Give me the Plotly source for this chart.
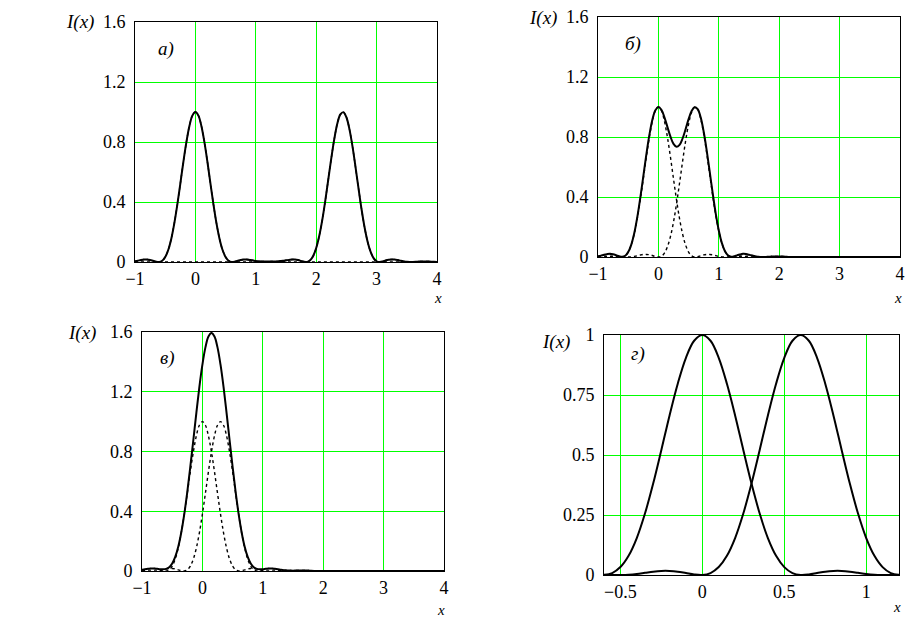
import plotly.graph_objects as go

W, H = 920, 630

# x sample positions for panels а, б, в
X_ABV = [-1.0, -0.95, -0.9, -0.85, -0.8, -0.75, -0.7, -0.65, -0.6, -0.55,
         -0.5, -0.45, -0.4, -0.35, -0.3, -0.25, -0.2, -0.15, -0.1, -0.05,
         0.0, 0.05, 0.1, 0.15, 0.2, 0.25, 0.3, 0.35, 0.4, 0.45,
         0.5, 0.55, 0.6, 0.65, 0.7, 0.75, 0.8, 0.85, 0.9, 0.95,
         1.0, 1.05, 1.1, 1.15, 1.2, 1.25, 1.3, 1.35, 1.4, 1.45,
         1.5, 1.55, 1.6, 1.65, 1.7, 1.75, 1.8, 1.85, 1.9, 1.95,
         2.0, 2.05, 2.1, 2.15, 2.2, 2.25, 2.3, 2.35, 2.4, 2.45,
         2.5, 2.55, 2.6, 2.65, 2.7, 2.75, 2.8, 2.85, 2.9, 2.95,
         3.0, 3.05, 3.1, 3.15, 3.2, 3.25, 3.3, 3.35, 3.4, 3.45,
         3.5, 3.55, 3.6, 3.65, 3.7, 3.75, 3.8, 3.85, 3.9, 3.95, 4.0]

# first image (centred at 0), same in а, б, в
I1 = [0.004, 0.009, 0.014, 0.017, 0.017, 0.014, 0.008, 0.002, 0.0, 0.008,
      0.033, 0.080, 0.154, 0.256, 0.381, 0.521, 0.665, 0.797, 0.905, 0.976,
      1.000, 0.976, 0.905, 0.797, 0.665, 0.521, 0.381, 0.256, 0.154, 0.080,
      0.033, 0.008, 0.0, 0.002, 0.008, 0.014, 0.017, 0.017, 0.014, 0.009,
      0.004, 0.001, 0.0, 0.0, 0.001, 0.003, 0.004, 0.004, 0.004, 0.003,
      0.001, 0.0, 0.0, 0.0, 0.0, 0.0, 0.0, 0.0, 0.0, 0.0,
      0.0, 0.0, 0.0, 0.0, 0.0, 0.0, 0.0, 0.0, 0.0, 0.0,
      0.0, 0.0, 0.0, 0.0, 0.0, 0.0, 0.0, 0.0, 0.0, 0.0,
      0.0, 0.0, 0.0, 0.0, 0.0, 0.0, 0.0, 0.0, 0.0, 0.0,
      0.0, 0.0, 0.0, 0.0, 0.0, 0.0, 0.0, 0.0, 0.0, 0.0, 0.0]

# panel а: second image and total
I2_A = [0.0, 0.0, 0.0, 0.0, 0.0, 0.0, 0.0, 0.0, 0.0, 0.0,
        0.0, 0.0, 0.0, 0.0, 0.0, 0.0, 0.0, 0.0, 0.0, 0.0,
        0.0, 0.0, 0.0, 0.0, 0.0, 0.0, 0.0, 0.0, 0.0, 0.0,
        0.0, 0.0, 0.0, 0.0, 0.0, 0.0, 0.0, 0.0, 0.0, 0.002,
        0.003, 0.004, 0.004, 0.004, 0.002, 0.001, 0.0, 0.0, 0.002, 0.005,
        0.010, 0.014, 0.017, 0.017, 0.013, 0.007, 0.001, 0.001, 0.012, 0.040,
        0.093, 0.173, 0.279, 0.408, 0.550, 0.692, 0.821, 0.923, 0.984, 0.999,
        0.965, 0.886, 0.772, 0.636, 0.492, 0.354, 0.233, 0.137, 0.069, 0.026,
        0.005, 0.0, 0.003, 0.010, 0.015, 0.017, 0.017, 0.013, 0.008, 0.004,
        0.001, 0.0, 0.0, 0.001, 0.003, 0.004, 0.004, 0.004, 0.002, 0.001, 0.0]
SUM_A = [0.004, 0.009, 0.014, 0.017, 0.017, 0.014, 0.008, 0.002, 0.0, 0.008,
         0.033, 0.080, 0.154, 0.256, 0.381, 0.521, 0.665, 0.797, 0.905, 0.976,
         1.000, 0.976, 0.905, 0.797, 0.665, 0.521, 0.381, 0.256, 0.154, 0.080,
         0.033, 0.008, 0.0, 0.002, 0.008, 0.014, 0.017, 0.017, 0.014, 0.011,
         0.007, 0.005, 0.004, 0.004, 0.003, 0.004, 0.004, 0.004, 0.006, 0.008,
         0.011, 0.014, 0.017, 0.017, 0.013, 0.007, 0.001, 0.001, 0.012, 0.040,
         0.093, 0.173, 0.279, 0.408, 0.550, 0.692, 0.821, 0.923, 0.984, 0.999,
         0.965, 0.886, 0.772, 0.636, 0.492, 0.354, 0.233, 0.137, 0.069, 0.026,
         0.005, 0.0, 0.003, 0.010, 0.015, 0.017, 0.017, 0.013, 0.008, 0.004,
         0.001, 0.0, 0.0, 0.001, 0.003, 0.004, 0.004, 0.004, 0.002, 0.001, 0.0]

# panel б: second image and total
I2_B = [0.0, 0.0, 0.001, 0.002, 0.004, 0.004, 0.004, 0.003, 0.001, 0.0,
        0.0, 0.001, 0.004, 0.008, 0.013, 0.017, 0.017, 0.015, 0.010, 0.003,
        0.0, 0.005, 0.026, 0.069, 0.137, 0.233, 0.354, 0.492, 0.636, 0.772,
        0.886, 0.965, 0.999, 0.984, 0.923, 0.821, 0.692, 0.550, 0.408, 0.279,
        0.173, 0.093, 0.040, 0.012, 0.001, 0.001, 0.007, 0.013, 0.017, 0.017,
        0.014, 0.010, 0.005, 0.002, 0.0, 0.0, 0.001, 0.002, 0.004, 0.004,
        0.004, 0.003, 0.002, 0.0, 0.0, 0.0, 0.0, 0.0, 0.0, 0.0,
        0.0, 0.0, 0.0, 0.0, 0.0, 0.0, 0.0, 0.0, 0.0, 0.0,
        0.0, 0.0, 0.0, 0.0, 0.0, 0.0, 0.0, 0.0, 0.0, 0.0,
        0.0, 0.0, 0.0, 0.0, 0.0, 0.0, 0.0, 0.0, 0.0, 0.0, 0.0]
SUM_B = [0.004, 0.009, 0.015, 0.019, 0.021, 0.018, 0.012, 0.005, 0.001, 0.008,
         0.033, 0.081, 0.158, 0.264, 0.394, 0.538, 0.682, 0.812, 0.915, 0.979,
         1.000, 0.981, 0.931, 0.866, 0.802, 0.754, 0.735, 0.748, 0.790, 0.852,
         0.919, 0.973, 0.999, 0.986, 0.931, 0.835, 0.709, 0.567, 0.422, 0.288,
         0.177, 0.094, 0.040, 0.012, 0.002, 0.004, 0.011, 0.017, 0.021, 0.020,
         0.015, 0.010, 0.005, 0.002, 0.0, 0.0, 0.001, 0.002, 0.004, 0.004,
         0.004, 0.003, 0.002, 0.0, 0.0, 0.0, 0.0, 0.0, 0.0, 0.0,
         0.0, 0.0, 0.0, 0.0, 0.0, 0.0, 0.0, 0.0, 0.0, 0.0,
         0.0, 0.0, 0.0, 0.0, 0.0, 0.0, 0.0, 0.0, 0.0, 0.0,
         0.0, 0.0, 0.0, 0.0, 0.0, 0.0, 0.0, 0.0, 0.0, 0.0, 0.0]

# panel в: second image and total
I2_V = [0.004, 0.003, 0.001, 0.0, 0.0, 0.001, 0.004, 0.009, 0.014, 0.017,
        0.017, 0.014, 0.008, 0.002, 0.0, 0.008, 0.033, 0.080, 0.154, 0.256,
        0.381, 0.521, 0.665, 0.797, 0.905, 0.976, 1.000, 0.976, 0.905, 0.797,
        0.665, 0.521, 0.381, 0.256, 0.154, 0.080, 0.033, 0.008, 0.0, 0.002,
        0.008, 0.014, 0.017, 0.017, 0.014, 0.009, 0.004, 0.001, 0.0, 0.0,
        0.001, 0.003, 0.004, 0.004, 0.004, 0.003, 0.001, 0.0, 0.0, 0.0,
        0.0, 0.0, 0.0, 0.0, 0.0, 0.0, 0.0, 0.0, 0.0, 0.0,
        0.0, 0.0, 0.0, 0.0, 0.0, 0.0, 0.0, 0.0, 0.0, 0.0,
        0.0, 0.0, 0.0, 0.0, 0.0, 0.0, 0.0, 0.0, 0.0, 0.0,
        0.0, 0.0, 0.0, 0.0, 0.0, 0.0, 0.0, 0.0, 0.0, 0.0, 0.0]
SUM_V = [0.008, 0.012, 0.015, 0.017, 0.017, 0.015, 0.012, 0.011, 0.014, 0.025,
         0.050, 0.094, 0.162, 0.258, 0.381, 0.529, 0.698, 0.877, 1.059, 1.232,
         1.381, 1.497, 1.570, 1.594, 1.570, 1.497, 1.381, 1.232, 1.059, 0.877,
         0.698, 0.529, 0.381, 0.258, 0.162, 0.094, 0.050, 0.025, 0.014, 0.011,
         0.012, 0.015, 0.017, 0.017, 0.015, 0.012, 0.008, 0.005, 0.004, 0.003,
         0.002, 0.003, 0.004, 0.004, 0.004, 0.003, 0.001, 0.0, 0.0, 0.0,
         0.0, 0.0, 0.0, 0.0, 0.0, 0.0, 0.0, 0.0, 0.0, 0.0,
         0.0, 0.0, 0.0, 0.0, 0.0, 0.0, 0.0, 0.0, 0.0, 0.0,
         0.0, 0.0, 0.0, 0.0, 0.0, 0.0, 0.0, 0.0, 0.0, 0.0,
         0.0, 0.0, 0.0, 0.0, 0.0, 0.0, 0.0, 0.0, 0.0, 0.0, 0.0]

# panel г (zoomed)
X_G = [-0.6, -0.55, -0.5, -0.45, -0.4, -0.35, -0.3, -0.25, -0.2, -0.15,
       -0.1, -0.05, 0.0, 0.05, 0.1, 0.15, 0.2, 0.25, 0.3, 0.35,
       0.4, 0.45, 0.5, 0.55, 0.6, 0.65, 0.7, 0.75, 0.8, 0.85,
       0.9, 0.95, 1.0, 1.05, 1.1, 1.15, 1.2]
G1 = [0.0, 0.008, 0.033, 0.080, 0.154, 0.256, 0.381, 0.521, 0.665, 0.797,
      0.905, 0.976, 1.000, 0.976, 0.905, 0.797, 0.665, 0.521, 0.381, 0.256,
      0.154, 0.080, 0.033, 0.008, 0.0, 0.002, 0.008, 0.014, 0.017, 0.017,
      0.014, 0.009, 0.004, 0.001, 0.0, 0.0, 0.001]
G2 = [0.001, 0.0, 0.0, 0.001, 0.004, 0.009, 0.014, 0.017, 0.017, 0.014,
      0.008, 0.002, 0.0, 0.008, 0.033, 0.080, 0.154, 0.256, 0.381, 0.521,
      0.665, 0.797, 0.905, 0.976, 1.000, 0.976, 0.905, 0.797, 0.665, 0.521,
      0.381, 0.256, 0.154, 0.080, 0.033, 0.008, 0.0]

Y_TICKS = [0, 0.4, 0.8, 1.2, 1.6]
Y_TICKS_G = [0, 0.25, 0.5, 0.75, 1]
Y_TEXT_G = ["0", "0.25", "0.5", "0.75", "1"]
X_TICKS_G = [-0.5, 0, 0.5, 1]
X_TEXT_G = ["\u22120.5", "0", "0.5", "1"]
PANEL_LABELS = ["а)", "б)", "в)", "г)"]

FONT = "Liberation Serif, Times New Roman, DejaVu Serif, serif"
GREEN = "#00ff00"


def px_x(p):
    return p / W


def px_y(p):
    return 1 - p / H


# plot-area boxes in pixels: left, right, top, bottom
boxes = [(135, 437, 22, 262), (598, 900, 17, 257),
         (142, 444, 332, 571), (604, 899, 335, 575)]

fig = go.Figure()

solid = dict(color="black", width=2)
dotted = dict(color="black", width=1.4, dash="dot")

panel_data = [
    (X_ABV, [I1, I2_A], [SUM_A]),
    (X_ABV, [I1, I2_B], [SUM_B]),
    (X_ABV, [I1, I2_V], [SUM_V]),
    (X_G, [], [G1, G2]),
]

for k, (xs, dots, sols) in enumerate(panel_data):
    xa = "x" if k == 0 else f"x{k+1}"
    ya = "y" if k == 0 else f"y{k+1}"
    for ys in dots:
        fig.add_trace(go.Scatter(x=xs, y=ys, mode="lines", line=dotted,
                                 line_shape="spline", xaxis=xa, yaxis=ya,
                                 showlegend=False, hoverinfo="skip"))
    for ys in sols:
        fig.add_trace(go.Scatter(x=xs, y=ys, mode="lines", line=solid,
                                 line_shape="spline", xaxis=xa, yaxis=ya,
                                 showlegend=False, hoverinfo="skip"))

axis_common = dict(showgrid=True, gridcolor=GREEN, gridwidth=1,
                   showline=True, linecolor="black", linewidth=1,
                   mirror=True, zeroline=False, ticks="", automargin=False,
                   tickfont=dict(family=FONT, size=18, color="black"),
                   fixedrange=True)

layout = {}
for k, (l, r, t, b) in enumerate(boxes):
    xn = "xaxis" if k == 0 else f"xaxis{k+1}"
    yn = "yaxis" if k == 0 else f"yaxis{k+1}"
    xa = "x" if k == 0 else f"x{k+1}"
    ya = "y" if k == 0 else f"y{k+1}"
    if k < 3:
        xcfg = dict(range=[-1, 4], tickvals=[-1, 0, 1, 2, 3, 4])
        ycfg = dict(range=[0, 1.6], tickvals=Y_TICKS)
    else:
        xcfg = dict(range=[-0.6, 1.2], tickvals=X_TICKS_G, ticktext=X_TEXT_G)
        ycfg = dict(range=[0, 1], tickvals=Y_TICKS_G, ticktext=Y_TEXT_G)
    layout[xn] = dict(axis_common, domain=[px_x(l), px_x(r)], anchor=ya, **xcfg)
    layout[yn] = dict(axis_common, domain=[px_y(b), px_y(t)], anchor=xa,
                      ticklabelstandoff=5, **ycfg)

fig.update_layout(**layout)

annotations = []
# I(x) labels
for (px, py) in [(80, 22), (543, 18), (82, 333), (556, 342)]:
    annotations.append(dict(x=px_x(px), y=px_y(py), xref="paper", yref="paper",
                            xanchor="center", yanchor="middle",
                            text="<i>I(x)</i>", showarrow=False,
                            font=dict(family=FONT, size=19, color="black")))
# x labels
for (px, py) in [(438, 298), (898, 298), (441, 610), (897, 607)]:
    annotations.append(dict(x=px_x(px), y=px_y(py), xref="paper", yref="paper",
                            xanchor="center", yanchor="middle",
                            text="<i>x</i>", showarrow=False,
                            font=dict(family=FONT, size=15, color="black")))
# panel letters
for lab, (px, py) in zip(PANEL_LABELS, [(166, 49), (633, 44), (167, 358), (638, 354)]):
    annotations.append(dict(x=px_x(px), y=px_y(py), xref="paper", yref="paper",
                            xanchor="center", yanchor="middle",
                            text=f"<i>{lab}</i>", showarrow=False,
                            font=dict(family=FONT, size=19, color="black")))

fig.update_layout(width=W, height=H,
                  margin=dict(l=0, r=0, t=0, b=0, pad=0, autoexpand=False),
                  paper_bgcolor="white", plot_bgcolor="white",
                  annotations=annotations, showlegend=False)

fig.write_html("out.html",
               config={"displayModeBar": False, "staticPlot": True},
               post_script="document.body.style.margin='0';"
                           "document.body.style.overflow='hidden';")
